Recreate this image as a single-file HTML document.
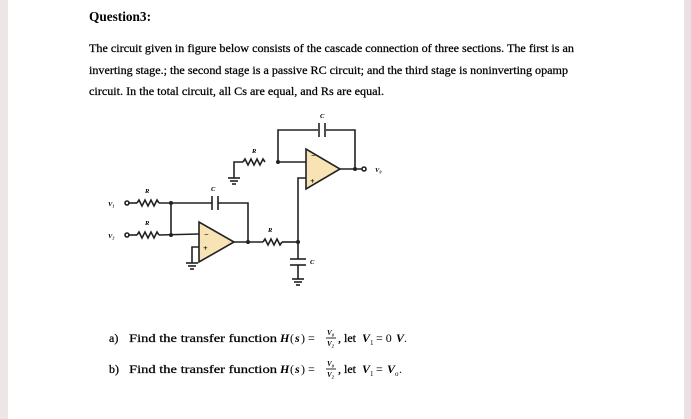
<!DOCTYPE html>
<html><head><meta charset="utf-8"><style>
html,body{margin:0;padding:0;background:#fff;}
svg{display:block;}
text{font-family:"Liberation Serif",serif;fill:#000;}
.t{stroke:#000;stroke-width:0.25;}
</style></head><body>
<svg width="691" height="419" viewBox="0 0 691 419" xmlns="http://www.w3.org/2000/svg">
<rect x="0" y="0" width="691" height="419" fill="#fff"/>
<rect x="0" y="0" width="8" height="419" fill="#ece6e7"/>
<rect x="684" y="0" width="7" height="419" fill="#e9e1e3"/>

<text x="89" y="21" font-size="13.5" font-weight="bold" textLength="62" lengthAdjust="spacingAndGlyphs">Question3:</text>
<g class="t">
<text x="89" y="52" font-size="11.5" textLength="485" lengthAdjust="spacingAndGlyphs">The circuit given in figure below consists of the cascade connection of three sections. The first is an</text>
<text x="89" y="74" font-size="11.5" textLength="479" lengthAdjust="spacingAndGlyphs">inverting stage.; the second stage is a passive RC circuit; and the third stage is noninverting opamp</text>
<text x="89" y="95" font-size="11.5" textLength="295" lengthAdjust="spacingAndGlyphs">circuit. In the total circuit, all Cs are equal, and Rs are equal.</text>
</g>

<g stroke="#222" stroke-width="1.6" fill="none">
 <polygon points="306,149 306,189 340,169" fill="#f7e3b4" stroke="#222"/>
 <polyline points="278,162 278,130 318,130"/>
 <polyline points="326,130 355,130 355,169"/>
 <line x1="319" y1="123" x2="319" y2="137"/><line x1="325" y1="123" x2="325" y2="137"/>
 <line x1="278" y1="162" x2="306" y2="162"/>
 <polyline points="265,162 263,159 260,165 257,159 254,165 251,159 248,165 245,159 243,162"/>
 <polyline points="243,162 234,162 234,178"/>
 <line x1="228" y1="178" x2="240" y2="178"/><line x1="230" y1="181" x2="238" y2="181"/><line x1="232" y1="184" x2="236" y2="184"/>
 <line x1="340" y1="169" x2="362" y2="169"/>
 <circle cx="364" cy="169" r="2" fill="#fff"/>
 <polyline points="306,178 298,178 298,241"/>
 <polygon points="199,222 199,262 234,242" fill="#f7e3b4" stroke="#222"/>
 <line x1="129" y1="203" x2="137" y2="203"/>
 <circle cx="127" cy="203" r="2" fill="#fff"/>
 <polyline points="137,203 139,200 142,206 145,200 148,206 151,200 154,206 157,200 159,203"/>
 <polyline points="159,203 212,203"/>
 <polyline points="218,203 248,203 248,242"/>
 <line x1="212" y1="196" x2="212" y2="210"/><line x1="218" y1="196" x2="218" y2="210"/>
 <line x1="129" y1="235" x2="137" y2="235"/>
 <circle cx="127" cy="235" r="2" fill="#fff"/>
 <polyline points="137,235 139,232 142,238 145,232 148,238 151,232 154,238 157,232 159,235"/>
 <polyline points="159,235 199,234"/>
 <line x1="171" y1="203" x2="171" y2="235"/>
 <polyline points="199,247 192,247 192,263"/>
 <line x1="186" y1="263" x2="198" y2="263"/><line x1="188" y1="266" x2="196" y2="266"/><line x1="190" y1="269" x2="194" y2="269"/>
 <line x1="234" y1="242" x2="263" y2="242"/>
 <polyline points="263,242 265,239 268,245 271,239 274,245 277,239 280,245 282,242"/>
 <line x1="282" y1="242" x2="298" y2="242"/>
 <line x1="298" y1="242" x2="298" y2="259"/>
 <line x1="290" y1="259" x2="306" y2="259"/><line x1="290" y1="265" x2="306" y2="265"/>
 <line x1="298" y1="265" x2="298" y2="279"/>
 <line x1="292" y1="279" x2="304" y2="279"/><line x1="294" y1="282" x2="302" y2="282"/><line x1="296" y1="285" x2="300" y2="285"/>
</g>
<g fill="#222">
 <circle cx="278" cy="162" r="2"/><circle cx="355" cy="169" r="2"/>
 <circle cx="171" cy="203" r="2"/><circle cx="171" cy="235" r="2"/>
 <circle cx="248" cy="242" r="2"/><circle cx="298" cy="242" r="2"/>
</g>
<g font-size="6.5" font-style="italic" font-weight="bold">
 <text x="320" y="118">C</text><text x="252" y="153">R</text>
 <text x="375" y="172">V₀</text>
 <text x="145" y="193">R</text><text x="211" y="191">C</text>
 <text x="145" y="225">R</text><text x="268" y="232">R</text>
 <text x="310" y="264">C</text>
 <text x="108" y="206">V₁</text><text x="108" y="238">V₂</text>
 <text x="311" y="158" font-size="8">−</text><text x="310" y="184" font-size="8">+</text>
 <text x="204" y="237" font-size="8">−</text><text x="203" y="251" font-size="8">+</text>
</g>
<g font-size="12">
 <text class="t" x="109" y="342">a)</text>
 <text class="t" x="129" y="342" textLength="148" lengthAdjust="spacingAndGlyphs">Find the transfer function</text>
 <text x="280" y="342" font-style="italic" font-weight="bold">H</text><text x="290" y="342">(</text><text x="295" y="342" font-style="italic" font-weight="bold">s</text><text x="301" y="342">) =</text>
 <text x="327" y="335" font-size="7" font-weight="bold" font-style="italic">V₀</text>
 <line x1="326" y1="338" x2="336" y2="338" stroke="#111" stroke-width="0.9"/>
 <text x="327" y="346" font-size="7" font-weight="bold" font-style="italic">V₂</text>
 <text class="t" x="338" y="342">, let</text><text x="362" y="342" font-style="italic" font-weight="bold">V</text><text x="370" y="345" font-size="7">1</text><text x="376" y="342">= 0</text><text x="396" y="342" font-style="italic" font-weight="bold">V</text><text x="404" y="342">.</text>

 <text class="t" x="109" y="373">b)</text>
 <text class="t" x="129" y="373" textLength="148" lengthAdjust="spacingAndGlyphs">Find the transfer function</text>
 <text x="280" y="373" font-style="italic" font-weight="bold">H</text><text x="290" y="373">(</text><text x="295" y="373" font-style="italic" font-weight="bold">s</text><text x="301" y="373">) =</text>
 <text x="327" y="366" font-size="7" font-weight="bold" font-style="italic">V₀</text>
 <line x1="326" y1="369" x2="336" y2="369" stroke="#111" stroke-width="0.9"/>
 <text x="327" y="377" font-size="7" font-weight="bold" font-style="italic">V₂</text>
 <text class="t" x="338" y="373">, let</text><text x="362" y="373" font-style="italic" font-weight="bold">V</text><text x="370" y="376" font-size="7">1</text><text x="376" y="373">=</text><text x="387" y="373" font-style="italic" font-weight="bold">V</text><text x="395" y="376" font-size="7">o</text><text x="399" y="373">.</text>
</g>
</svg>
</body></html>
